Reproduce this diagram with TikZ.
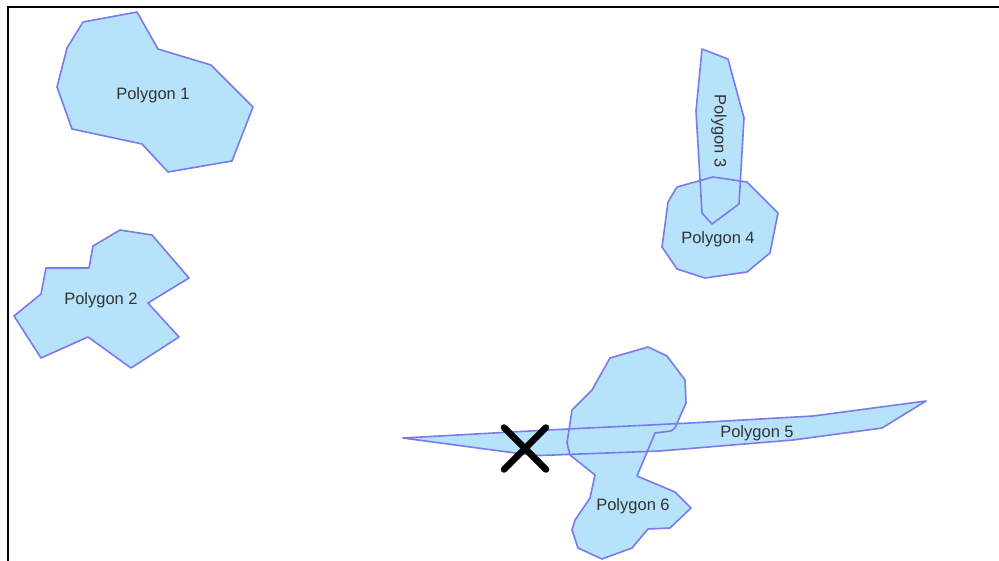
\documentclass[tikz,border=0pt]{standalone}
\usepackage{fontspec}
\setmainfont{Liberation Sans}
\begin{document}
\begin{tikzpicture}[x=1pt, y=-1pt,
    polyFill/.style={fill=fillColour, draw=none},
    polyEdge/.style={draw=edgeColour, line width=1.6pt, line join=round},
    polyLabel/.style={text=labelColour, font=\fontsize{16.5}{19}\selectfont, inner sep=0pt}]
    \definecolor{fillColour}{HTML}{B6E2FA}
    \definecolor{edgeColour}{HTML}{7A7AEE}
    \definecolor{labelColour}{HTML}{333333}

    \useasboundingbox (0,0) rectangle (999,560);

    % Frame
    \draw[line width=1.6pt] (8,570) -- (8,7) -- (1010,7);

    % Outlines of the polygons
    \def\polyOne{(83,22) -- (137,12) -- (158,49) -- (211,65) -- (253,107) -- (232,161) -- (168,172) -- (142,144) -- (72,129) -- (57,87) -- (67,48) -- cycle}
    \def\polyTwo{(120,230) -- (152,235) -- (189,278) -- (148,303) -- (179,337) -- (131,368) -- (88,337) -- (41,358) -- (14,316) -- (41,294) -- (46,268) -- (89,268) -- (93,246) -- cycle}
    \def\polyThree{(702,49) -- (728,59) -- (744,118) -- (739,204) -- (712,224) -- (702,213) -- (696,111) -- cycle}
    \def\polyFour{(677,187) -- (713,177) -- (747,182) -- (778,213) -- (770,253) -- (747,272) -- (705,278) -- (677,269) -- (662,247) -- (668,202) -- cycle}
    \def\polyFive{(403,438) -- (515,453) -- (540,455.5) -- (660,451) -- (793,440) -- (882,428) -- (926,401) -- (813,416) -- (690,423) -- (548,430) -- cycle}
    \def\polySix{(610,358) -- (648,347) -- (667,356) -- (685,380) -- (686,403) -- (675,428) -- (671,431) -- (655,433) -- (637,476) -- (675,492) -- (691,508) -- (670,528) -- (648,529) -- (632,548) -- (602,559) -- (578,548) -- (572,530) -- (575,520) -- (590,498) -- (595,475) -- (570,455) -- (567,443) -- (572,410) -- (592,390) -- cycle}

    % Fill first, edges on top
    \foreach \poly in {\polyOne,\polyTwo,\polyThree,\polyFour,\polyFive,\polySix}
        \path[polyFill] \poly;
    \foreach \poly in {\polyOne,\polyTwo,\polyThree,\polyFour,\polyFive,\polySix}
        \path[polyEdge] \poly;

    % Labels
    \node[polyLabel] (labelOne) at (153,95) {Polygon 1};
    \node[polyLabel] (labelTwo) at (101,300) {Polygon 2};
    \node[polyLabel, rotate=-90] (labelThree) at (719,131) {Polygon 3};
    \node[polyLabel] (labelFour) at (718,239) {Polygon 4};
    \node[polyLabel] (labelFive) at (757,433) {Polygon 5};
    \node[polyLabel] (labelSix) at (633,506) {Polygon 6};

    % Marker
    \coordinate (markCentre) at (525,448.5);
    \draw[line width=6.5pt, line cap=round] ([shift={(-21,-21)}]markCentre) -- ([shift={(21,21)}]markCentre);
    \draw[line width=6.5pt, line cap=round] ([shift={(-21,21)}]markCentre) -- ([shift={(21,-21)}]markCentre);

\end{tikzpicture}
\end{document}
